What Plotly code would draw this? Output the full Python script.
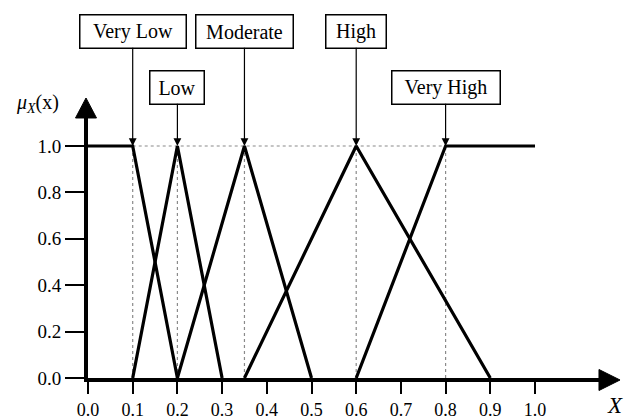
import plotly.graph_objects as go

# Fuzzy sets over the universe X: breakpoints (x) and membership grades (mu)
set_names = ["Very Low", "Low", "Moderate", "High", "Very High"]
set_x = [
    [0.0, 0.1, 0.2],
    [0.1, 0.2, 0.3],
    [0.2, 0.35, 0.5],
    [0.35, 0.6, 0.9],
    [0.6, 0.8, 1.0],
]
set_mu = [
    [1.0, 1.0, 0.0],
    [0.0, 1.0, 0.0],
    [0.0, 1.0, 0.0],
    [0.0, 1.0, 0.0],
    [0.0, 1.0, 1.0],
]
# Point of each set where its label points (core start / peak)
label_x = [0.1, 0.2, 0.35, 0.6, 0.8]
label_row = [0, 1, 0, 0, 1]          # 0 = upper row of boxes, 1 = lower row
label_box_w = [105, 53, 96, 59, 107]

x_ticks = [round(0.1 * i, 1) for i in range(11)]
y_ticks = [0.0, 0.2, 0.4, 0.6, 0.8, 1.0]

FONT = "Liberation Serif"

fig = go.Figure()

# dotted guide lines: verticals at the label points, horizontal at mu = 1
gx, gy = [], []
for xv in label_x:
    gx += [xv, xv, None]
    gy += [0.0, 1.0, None]
gx += [label_x[0], label_x[-1]]
gy += [1.0, 1.0]
fig.add_trace(go.Scatter(x=gx, y=gy, mode="lines",
                         line=dict(color="#8a8a8a", width=1.2, dash="dot"),
                         hoverinfo="skip", showlegend=False))

# membership functions
for name, xs, ms in zip(set_names, set_x, set_mu):
    fig.add_trace(go.Scatter(x=xs, y=ms, mode="lines", name=name,
                             line=dict(color="black", width=3.2),
                             showlegend=False))

annotations = []
# labelled boxes with arrows pointing at each set
for name, xv, row, bw in zip(set_names, label_x, label_row, label_box_w):
    annotations.append(dict(
        x=xv, y=1.0, xref="x", yref="y",
        text=name, showarrow=True, ax=0, ay=-115 if row == 0 else -59,
        arrowhead=2, arrowsize=1.3, arrowwidth=1.2, arrowcolor="black",
        standoff=0, startstandoff=0,
        font=dict(family=FONT, size=20, color="black"),
        bordercolor="black", borderwidth=1.5, borderpad=0,
        bgcolor="white", width=bw, height=32, align="center",
    ))

# axis titles
annotations.append(dict(x=-0.0977, y=1.045, xref="paper", yref="paper",
                        xanchor="center", yanchor="middle", showarrow=False,
                        text="<i>μ</i><sub><i>X</i></sub>(x)",
                        font=dict(family=FONT, size=20, color="black")))
annotations.append(dict(x=1.03, y=-0.105, xref="paper", yref="paper",
                        xanchor="center", yanchor="middle",
                        showarrow=False, text="<i>X</i>",
                        font=dict(family=FONT, size=23, color="black")))

# filled arrowheads capping both axes (paper coordinates of the plot frame)
shapes = [
    dict(type="path", xref="paper", yref="paper",
         path="M -0.0244,0.9886 L 0.0166,0.9886 L -0.0039,1.0646 Z",
         fillcolor="black", line=dict(color="black", width=1)),
    dict(type="path", xref="paper", yref="paper",
         path="M 0.998,-0.0475 L 0.998,0.0323 L 1.0391,-0.0076 Z",
         fillcolor="black", line=dict(color="black", width=1)),
]

fig.update_layout(
    width=624, height=419,
    margin=dict(l=88, r=24, t=115, b=41),
    paper_bgcolor="white", plot_bgcolor="white",
    annotations=annotations, shapes=shapes,
    xaxis=dict(range=[0, 1.1454], showgrid=False, zeroline=False,
               automargin=False,
               showline=True, linecolor="black", linewidth=4,
               ticks="outside", ticklen=12, tickwidth=1.5, tickcolor="black",
               tickvals=x_ticks, ticktext=[f"{v:.1f}" for v in x_ticks],
               tickfont=dict(family=FONT, size=18, color="black")),
    yaxis=dict(range=[0, 1.1336], showgrid=False, zeroline=False,
               automargin=False,
               showline=True, linecolor="black", linewidth=4,
               ticks="outside", ticklen=19, tickwidth=2, tickcolor="black",
               tickvals=y_ticks, ticktext=[f"{v:.1f}" for v in y_ticks],
               tickfont=dict(family=FONT, size=19, color="black")),
)

fig.write_html("out.html")
